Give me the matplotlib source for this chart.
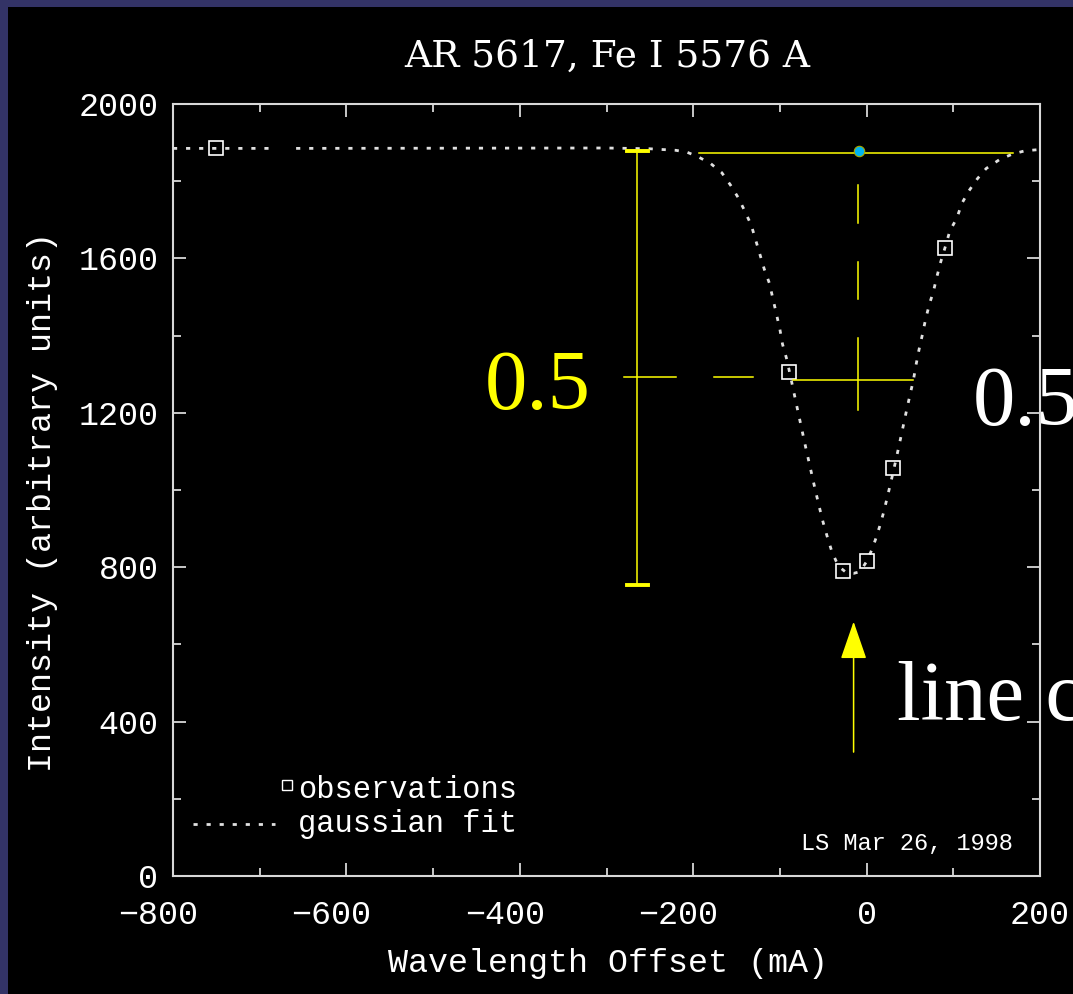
import matplotlib
matplotlib.use("Agg")
import matplotlib.pyplot as plt
from matplotlib.patches import Rectangle
from matplotlib.lines import Line2D
from matplotlib.ticker import MultipleLocator
from matplotlib.transforms import ScaledTranslation

# ---------------- data ----------------
title = "AR 5617, Fe I 5576 A"
x_label = "Wavelength Offset (mA)"
y_label = "Intensity (arbitrary units)"
x_ticks = [-800, -600, -400, -200, 0, 200]
y_ticks = [0, 400, 800, 1200, 1600, 2000]

obs_x = [-750, -90, -27, 0, 30, 91]
obs_y = [1885, 1305, 790, 815, 1058, 1627]

# gaussian fit (None = gap in the dotted line)
fit_x = [-800, -687, None, -658, -300, -250, -220, -207, -195, -180, -167, -157, -148, -141, -133,
         -128, -123, -118, -112, -108, -104, -100, -97, -92, -85, -80, -75, -70,
         -65, -60, -55, -50, -45, -40, -35, -30, -25, -20, -15, -10, -5, 0, 5,
         10, 15, 20, 25, 30, 35, 40, 45, 50, 54, 57, 60.5, 64.5, 68, 72.5, 77,
         81, 85.5, 91, 96, 104, 110, 118, 128, 138, 154, 168, 183, 200]
fit_y = [1885, 1885, None, 1885, 1886, 1884, 1880, 1875, 1864, 1846, 1822, 1790, 1757, 1725, 1686,
         1648, 1610, 1572, 1535, 1495, 1456, 1416, 1378, 1338, 1265, 1212, 1160, 1108,
         1058, 1008, 960, 915, 876, 840, 815, 798, 789, 785, 784, 787, 797, 815, 840,
         870, 905, 945, 992, 1040, 1090, 1142, 1195, 1246, 1285, 1324, 1364, 1404, 1442, 1482, 1514,
         1552, 1591, 1632, 1671, 1704, 1743, 1775, 1807, 1833, 1857, 1870, 1879, 1882]

legend_labels = ["observations", "gaussian fit"]
stamp = "LS Mar 26, 1998"

# yellow annotation overlay (data coordinates)
depth_x = -265
depth_y = [754, 1878]
depth_cap_x = [-276, -252]
half_y = 1293
half_segments_x = [(-280, -220), (-176, -131)]
cont_y = 1874
cont_x = [-193, 169]
center_x = -10
center_dashes_y = [(1790, 1692), (1591, 1495), (1394, 1207)]
fwhm_y = 1286
fwhm_x = [-85, 53]
peak_x, peak_y = -9, 1878
arrow_x = -15
arrow_y = [321, 659]
half_text = "0.5"
center_text = "line center"

# ---------------- figure ----------------
W, H = 1073, 994
fig = plt.figure(figsize=(W / 100, H / 100), dpi=100, facecolor="#333366")
fig.add_artist(Rectangle((8 / W, 0), 1, 1 - 7 / H, transform=fig.transFigure,
                         facecolor="black", edgecolor="none", zorder=-10))

ax = fig.add_axes([173 / W, 1 - 876 / H, 867 / W, 772 / H])
ax.set_facecolor("black")
ax.set_xlim(-800, 200)
ax.set_ylim(0, 2000)

frame_c = "#d8d8d8"
mono = "Liberation Mono"
serif = "Liberation Serif"
for s in ax.spines.values():
    s.set_color(frame_c)
    s.set_linewidth(1.5)

ax.set_xticks(x_ticks)
ax.set_yticks(y_ticks)
ax.xaxis.set_minor_locator(MultipleLocator(100))
ax.yaxis.set_minor_locator(MultipleLocator(200))
ax.tick_params(which="both", direction="in", top=True, right=True,
               color=frame_c, width=1.3, labelcolor="white", labelsize=24)
ax.tick_params(which="major", length=9.4)
ax.tick_params(which="minor", length=5.8)
ax.tick_params(axis="x", pad=17)
ax.tick_params(axis="y", pad=10.5)
for lab in ax.get_xticklabels() + ax.get_yticklabels():
    lab.set_family(mono)

# gaussian fit (dotted) and observations (squares)
fx = [float("nan") if v is None else v for v in fit_x]
fy = [float("nan") if v is None else v for v in fit_y]
ax.plot(fx, fy, color="#e0e0e0", lw=2.0, linestyle=(0, (1.5, 3.2)), zorder=3)
ax.plot(obs_x, obs_y, linestyle="none", marker="s", mfc="none", mec="white",
        ms=9.5, mew=1.2, zorder=4)

# yellow overlay
yel = "#ffff00"
ax.plot([depth_x, depth_x], depth_y, color=yel, lw=1.1, zorder=5)
ax.plot(depth_cap_x, [depth_y[1], depth_y[1]], color=yel, lw=2.8, zorder=5)
ax.plot(depth_cap_x, [depth_y[0], depth_y[0]], color=yel, lw=2.8, zorder=5)
for x0, x1 in half_segments_x:
    ax.plot([x0, x1], [half_y, half_y], color=yel, lw=1.1, zorder=5)
ax.plot(cont_x, [cont_y, cont_y], color=yel, lw=1.1, zorder=5)
for y0, y1 in center_dashes_y:
    ax.plot([center_x, center_x], [y0, y1], color=yel, lw=1.1, zorder=5)
ax.plot(fwhm_x, [fwhm_y, fwhm_y], color=yel, lw=1.1, zorder=5)
ax.plot([peak_x], [peak_y], marker="o", color="#00b4f0", mec="#a8a800",
        ms=7.5, mew=0.8, zorder=6)
ax.annotate("", xy=(arrow_x, arrow_y[1]), xytext=(arrow_x, arrow_y[0]),
            arrowprops=dict(arrowstyle="-|>,head_length=2.4,head_width=0.83",
                            color=yel, lw=1.1, shrinkA=0, shrinkB=0),
            annotation_clip=False, zorder=5)

ax.text(-440, 1210, half_text, color=yel, fontsize=61, family=serif,
        ha="left", va="baseline", clip_on=False, zorder=2)
ax.text(123, 1168, half_text, color="white", fontsize=61, family=serif,
        ha="left", va="baseline", clip_on=False, zorder=2)
ax.text(35, 404, center_text, color="white", fontsize=61, family=serif,
        ha="left", va="baseline", clip_on=False, zorder=2)

# legend (drawn as in the original IDL plot)
fig.add_artist(Line2D([287 / W], [1 - 785 / H], transform=fig.transFigure,
                      linestyle="none", marker="s", mfc="none", mec="white",
                      ms=7, mew=1.0))
fig.add_artist(Line2D([193 / W, 275 / W], [1 - 824 / H, 1 - 824 / H],
                      transform=fig.transFigure, color="#e0e0e0", lw=2.0,
                      linestyle=(0, (1.5, 3.2))))
fig.text(298 / W, 1 - 798 / H, legend_labels[0], color="white", fontsize=22,
         family=mono, va="baseline", ha="left")
fig.text(298 / W, 1 - 832 / H, legend_labels[1], color="white", fontsize=22,
         family=mono, va="baseline", ha="left")
fig.text(801 / W, 1 - 850 / H, stamp, color="white", fontsize=17,
         family=mono, va="baseline", ha="left")

# titles
fig.text(607 / W, 1 - 67 / H, title, color="white", fontsize=27,
         family="DejaVu Serif", ha="center", va="baseline")
fig.text(608 / W, 1 - 972 / H, x_label, color="white", fontsize=24,
         family=mono, ha="center", va="baseline")
fig.text(43 / W, 1 - 502 / H, y_label, color="white", fontsize=24,
         family=mono, ha="center", va="center", rotation=90)

# IDL centres the digits of negative labels on the tick (minus sign hangs left)
shift = ScaledTranslation(-15 / 100, 0, fig.dpi_scale_trans)
for tick, val in zip(ax.xaxis.get_major_ticks(), x_ticks):
    if val < 0:
        tick.label1.set_transform(tick.label1.get_transform() + shift)

fig.savefig("out.png", dpi=100, facecolor=fig.get_facecolor())
